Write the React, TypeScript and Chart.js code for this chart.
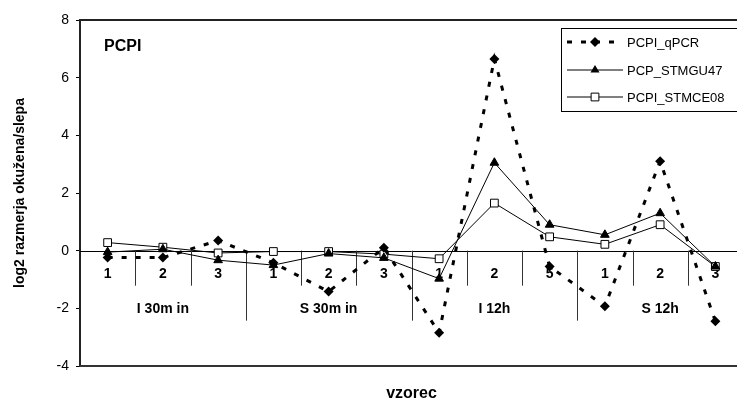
import React, { useEffect, useRef } from "react";
import { Chart, registerables } from "chart.js";

Chart.register(...registerables);

const subLabels = ["1", "2", "3", "1", "2", "3", "1", "2", "5", "1", "2", "3"];
const groupLabels = ["I 30m in", "S 30m in", "I 12h", "S 12h"];
const groupSizes = [3, 3, 3, 3];
const seriesNames = ["PCPI_qPCR", "PCP_STMGU47", "PCPI_STMCE08"];
const qpcr = [-0.24, -0.24, 0.35, -0.42, -1.42, 0.1, -2.85, 6.65, -0.55, -1.93, 3.1, -2.45];
const stmgu47 = [-0.05, 0.05, -0.33, -0.5, -0.1, -0.25, -0.97, 3.05, 0.9, 0.55, 1.3, -0.55];
const stmce08 = [0.28, 0.12, -0.08, -0.03, -0.03, -0.12, -0.28, 1.65, 0.48, 0.22, 0.9, -0.55];
const yTicks = { min: -4, max: 8, step: 2 };
const panelTitle = "PCPI";
const yTitle = "log2 razmerja okužena/slepa";
const xTitle = "vzorec";

const FONT = '"Liberation Sans", Arial, sans-serif';

function drawMarker(ctx: CanvasRenderingContext2D, style: string, x: number, y: number, r: number, fill: string) {
  ctx.save();
  ctx.setLineDash([]);
  ctx.lineWidth = 1;
  ctx.strokeStyle = "#000";
  ctx.fillStyle = fill;
  ctx.beginPath();
  if (style === "rectRot") {
    ctx.moveTo(x, y - r);
    ctx.lineTo(x + r, y);
    ctx.lineTo(x, y + r);
    ctx.lineTo(x - r, y);
    ctx.closePath();
    ctx.fill();
  } else if (style === "triangle") {
    const h = r * 1.5;
    ctx.moveTo(x, y - r);
    ctx.lineTo(x + r * 0.9, y + h - r);
    ctx.lineTo(x - r * 0.9, y + h - r);
    ctx.closePath();
    ctx.fill();
  } else {
    const s = r * Math.SQRT1_2;
    ctx.rect(x - s, y - s, 2 * s, 2 * s);
    ctx.fill();
    ctx.stroke();
  }
  ctx.restore();
}

const decorPlugin = {
  id: "decor",
  beforeDatasetsDraw(chart: any) {
    const { ctx, chartArea, scales } = chart;
    const xs = scales.x;
    const ys = scales.y;
    const y0 = ys.getPixelForValue(0);
    const xAt = (i: number) => xs.getPixelForValue(i);
    const step = xAt(1) - xAt(0);
    ctx.save();
    ctx.strokeStyle = "#222";
    ctx.lineWidth = 2;
    ctx.beginPath();
    ctx.moveTo(chartArea.left, chartArea.top);
    ctx.lineTo(chart.width, chartArea.top);
    ctx.stroke();
    ctx.strokeStyle = "#333";
    ctx.beginPath();
    ctx.moveTo(chartArea.left, chartArea.bottom);
    ctx.lineTo(chart.width, chartArea.bottom);
    ctx.stroke();
    ctx.strokeStyle = "#000";
    ctx.lineWidth = 1;
    ctx.beginPath();
    ctx.moveTo(chartArea.left, Math.round(y0) + 0.5);
    ctx.lineTo(chart.width, Math.round(y0) + 0.5);
    ctx.stroke();
    const boundaries = new Set<number>();
    let acc = 0;
    groupSizes.forEach((g) => {
      acc += g;
      boundaries.add(acc);
    });
    ctx.strokeStyle = "#333";
    for (let i = 1; i < subLabels.length; i++) {
      const x = Math.round((xAt(i - 1) + xAt(i)) / 2) + 0.5;
      const len = boundaries.has(i) ? 70 : 35;
      ctx.beginPath();
      ctx.moveTo(x, y0);
      ctx.lineTo(x, y0 + len);
      ctx.stroke();
    }
    ctx.fillStyle = "#000";
    ctx.font = `bold 14px ${FONT}`;
    ctx.textAlign = "center";
    ctx.textBaseline = "middle";
    subLabels.forEach((l, i) => ctx.fillText(l, xAt(i), y0 + 23));
    let start = 0;
    groupSizes.forEach((g, gi) => {
      const end = start + g;
      const left = xAt(start) - step / 2;
      const right = xAt(end - 1) + step / 2;
      ctx.fillText(groupLabels[gi], (left + right) / 2, y0 + 58);
      start = end;
    });
    ctx.restore();
  },
  afterDraw(chart: any) {
    const { ctx, chartArea, data } = chart;
    ctx.save();
    ctx.fillStyle = "#000";
    ctx.font = `bold 16px ${FONT}`;
    ctx.textAlign = "left";
    ctx.textBaseline = "middle";
    ctx.fillText(panelTitle, chartArea.left + 24, chartArea.top + 27);
    ctx.textAlign = "center";
    ctx.fillText(xTitle, (chartArea.left + chartArea.right) / 2, chartArea.bottom + 28);
    const lx = 561, ly = 28, lw = 200, lh = 83;
    ctx.fillStyle = "#fff";
    ctx.fillRect(lx, ly, lw, lh);
    ctx.strokeStyle = "#000";
    ctx.lineWidth = 1;
    ctx.strokeRect(lx + 0.5, ly + 0.5, lw, lh);
    const rows = [42, 70, 97];
    data.datasets.forEach((ds: any, i: number) => {
      const y = rows[i];
      ctx.save();
      ctx.strokeStyle = "#000";
      ctx.lineWidth = ds.borderWidth;
      ctx.setLineDash(ds.borderDash || []);
      ctx.beginPath();
      ctx.moveTo(567, y);
      ctx.lineTo(623, y);
      ctx.stroke();
      ctx.restore();
      drawMarker(ctx, ds.pointStyle, 595, y, ds.pointRadius, ds.pointBackgroundColor);
      ctx.fillStyle = "#000";
      ctx.font = `13px ${FONT}`;
      ctx.textAlign = "left";
      ctx.textBaseline = "middle";
      ctx.fillText(ds.label, 627, y + 1);
    });
    ctx.restore();
  },
};

export default function App() {
  const ref = useRef<HTMLCanvasElement>(null);
  useEffect(() => {
    document.body.style.margin = "0";
    const chart = new Chart(ref.current as HTMLCanvasElement, {
      type: "line",
      data: {
        labels: subLabels,
        datasets: [
          {
            label: seriesNames[0],
            data: qpcr,
            borderColor: "#000",
            borderWidth: 3,
            borderDash: [5, 9],
            pointStyle: "rectRot",
            pointRadius: 5,
            pointBackgroundColor: "#000",
            pointBorderColor: "#000",
            pointBorderWidth: 0,
            tension: 0,
          },
          {
            label: seriesNames[1],
            data: stmgu47,
            borderColor: "#000",
            borderWidth: 1,
            pointStyle: "triangle",
            pointRadius: 5,
            pointBackgroundColor: "#000",
            pointBorderColor: "#000",
            pointBorderWidth: 1,
            tension: 0,
          },
          {
            label: seriesNames[2],
            data: stmce08,
            borderColor: "#000",
            borderWidth: 1,
            pointStyle: "rect",
            pointRadius: 5.5,
            pointBackgroundColor: "#fff",
            pointBorderColor: "#000",
            pointBorderWidth: 1,
            tension: 0,
          },
        ],
      },
      options: {
        responsive: false,
        animation: false,
        layout: { autoPadding: false, padding: { top: 20, right: 0, bottom: 35, left: 0 } },
        plugins: { legend: { display: false }, tooltip: { enabled: false } },
        scales: {
          x: { type: "category", display: false, offset: true },
          y: {
            min: yTicks.min,
            max: yTicks.max,
            ticks: { stepSize: yTicks.step, color: "#000", font: { family: FONT, size: 14 }, padding: 7 },
            grid: { drawOnChartArea: false, drawTicks: true, tickLength: 4, color: "#000" },
            border: { color: "#222", width: 2 },
            title: { display: true, text: yTitle, color: "#000", font: { family: FONT, size: 14, weight: "bold" }, padding: { top: 12, bottom: 0 } },
            afterFit: (s: any) => {
              s.width = 80;
            },
          },
        },
      },
      plugins: [decorPlugin],
    });
    return () => chart.destroy();
  }, []);
  return (
    <div style={{ position: "absolute", left: 0, top: 0, width: 737, height: 401, overflow: "hidden", background: "#fff" }}>
      <canvas ref={ref} width={743} height={401} style={{ width: 743, height: 401, display: "block" }} />
    </div>
  );
}
